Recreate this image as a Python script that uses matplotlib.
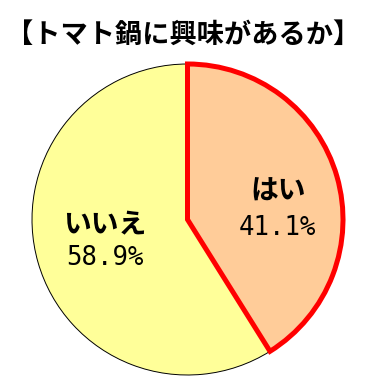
import matplotlib.pyplot as plt

plt.rcParams['font.family'] = ['Noto Sans CJK JP', 'DejaVu Sans']

labels = ['はい', 'いいえ']
values = [41.1, 58.9]
colors = ['#FFCC99', '#FFFF99']
title = '【トマト鍋に興味があるか】'

fig = plt.figure(figsize=(3.66, 3.88), dpi=100)
# pie centre at (187.5, 219.5) px, radius 155.5 px
ax = fig.add_axes([32 / 366, (388 - 375) / 388, 311 / 366, 311 / 388])

wedges, _ = ax.pie(values, colors=colors, startangle=90, counterclock=False,
                   radius=1.0, wedgeprops=dict(edgecolor='black', linewidth=0.7))
wedges[0].set_edgecolor('#FF0000')
wedges[0].set_linewidth(3.6)
wedges[0].set_zorder(3)
wedges[0].set_joinstyle('miter')

# label positions in data coords (radius = 1): name row, value row
label_pos = [((0.58, 0.18), (0.58, -0.055)), ((-0.53, -0.04), (-0.53, -0.245))]
for ((nx, ny), (vx, vy)), name, val in zip(label_pos, labels, values):
    ax.text(nx, ny, name, ha='center', va='center', fontsize=20,
            fontweight='bold', zorder=5)
    ax.text(vx, vy, f'{val:.1f}%', ha='center', va='center', fontsize=18.5,
            family='DejaVu Sans Mono', zorder=5)

ax.set_xlim(-1, 1)
ax.set_ylim(-1, 1)
ax.set_aspect('equal')
ax.axis('off')

fig.text(183 / 366, 1 - 35 / 388, title, ha='center', va='center', fontsize=19.6,
         fontweight='bold')

fig.savefig('out.png', dpi=100)
